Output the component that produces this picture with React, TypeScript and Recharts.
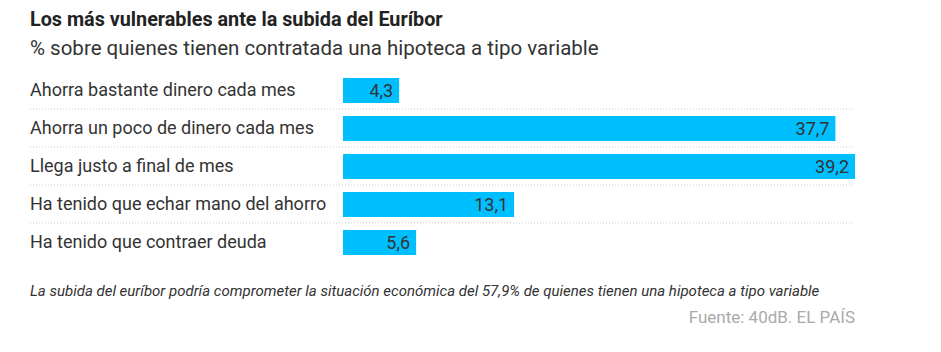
import React from 'react';
import { BarChart, Bar, XAxis, YAxis, CartesianGrid, LabelList } from 'recharts';

const categories = [
    'Ahorra bastante dinero cada mes',
    'Ahorra un poco de dinero cada mes',
    'Llega justo a final de mes',
    'Ha tenido que echar mano del ahorro',
    'Ha tenido que contraer deuda'
];
const values = [4.3, 37.7, 39.2, 13.1, 5.6];

const data = categories.map((name, i) => ({ name, value: values[i] }));

const FONT = 'Roboto, "Liberation Sans", sans-serif';

// separators sit on band boundaries, skipping the first one
const separatorLines = ({ yAxis, offset }: any) => {
    const scale = yAxis && yAxis.scale;
    if (scale && typeof scale === 'function') {
        return categories.slice(1).map((c) => scale(c));
    }
    const step = offset.height / categories.length;
    return categories.slice(1).map((_, i) => offset.top + step * (i + 1));
};

const CategoryTick = ({ y, payload }: any) => (
    <text x={30} y={y} dy={6} textAnchor="start" fill="#333" fontSize={18} fontFamily={FONT}>
        {payload.value}
    </text>
);

const App = () => {
    return (
        <div style={{ position: 'absolute', left: 0, top: 0, width: 941, height: 352, fontFamily: FONT }}>
            <div style={{ position: 'absolute', left: 30, top: 8, fontSize: 19.8, fontWeight: 700, color: '#222', whiteSpace: 'nowrap' }}>
                Los más vulnerables ante la subida del Euríbor
            </div>
            <div style={{ position: 'absolute', left: 30, top: 36, fontSize: 20.5, color: '#333', whiteSpace: 'nowrap' }}>
                % sobre quienes tienen contratada una hipoteca a tipo variable
            </div>
            <div style={{ position: 'absolute', left: 0, top: 0 }}>
                <BarChart
                    width={941}
                    height={275}
                    data={data}
                    layout="vertical"
                    margin={{ top: 71, right: 86, bottom: 14, left: 0 }}
                >
                    <CartesianGrid
                        x={30}
                        width={825}
                        vertical={false}
                        horizontalCoordinatesGenerator={separatorLines}
                        stroke="#ccc"
                        strokeDasharray="1 2"
                    />
                    <XAxis type="number" domain={[0, 39.2]} hide />
                    <YAxis
                        type="category"
                        dataKey="name"
                        width={343}
                        axisLine={false}
                        tickLine={false}
                        tick={<CategoryTick />}
                    />
                    <Bar dataKey="value" fill="#00BFFF" barSize={25} isAnimationActive={false}>
                        <LabelList
                            dataKey="value"
                            position="insideRight"
                            offset={6}
                            fill="#333"
                            fontSize={18}
                            fontFamily={FONT}
                            formatter={(v: any) => String(v).replace('.', ',')}
                        />
                    </Bar>
                </BarChart>
            </div>
            <div style={{ position: 'absolute', left: 30, top: 282, fontSize: 15, fontStyle: 'italic', color: '#333', whiteSpace: 'nowrap' }}>
                La subida del euríbor podría comprometer la situación económica del 57,9% de quienes tienen una hipoteca a tipo variable
            </div>
            <div style={{ position: 'absolute', right: 86, top: 307, fontSize: 17, color: '#aaa', whiteSpace: 'nowrap' }}>
                Fuente: 40dB. EL PAÍS
            </div>
        </div>
    );
};

export default App;
